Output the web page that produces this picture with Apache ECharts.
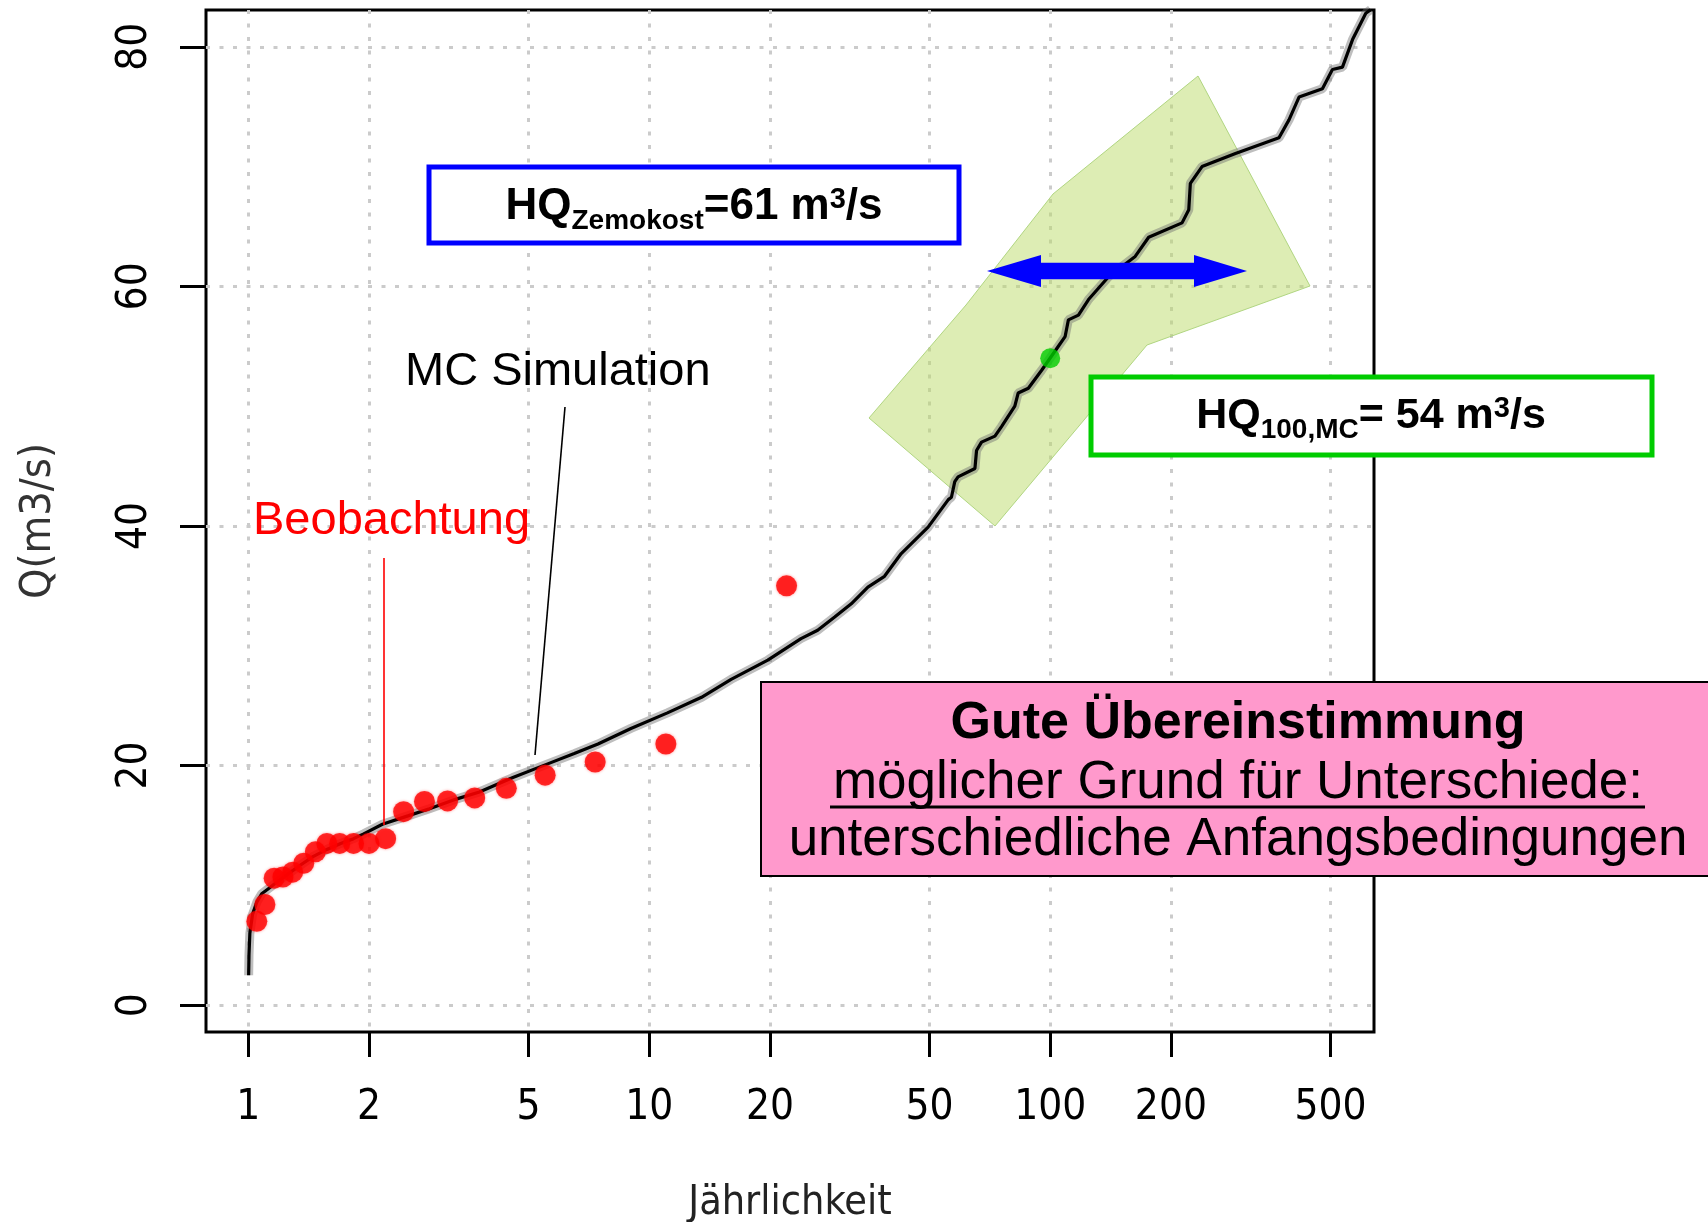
<!DOCTYPE html>
<html><head><meta charset="utf-8">
<script src="https://cdn.jsdelivr.net/npm/echarts@6/dist/echarts.min.js"></script>
<style>html,body{margin:0;padding:0;background:#fff}#c{width:1708px;height:1222px}</style>
</head><body><div id="c"></div>
<script>
// ---- data ----
const returnPeriodTicks = [1, 2, 5, 10, 20, 50, 100, 200, 500];
const dischargeTicks = [0, 20, 40, 60, 80];

// MC simulation curve: return period (years) and discharge (m3/s)
const mcReturnPeriod = [1.002, 1.004, 1.009, 1.025, 1.05, 1.08, 1.12, 1.17, 1.25, 1.35, 1.45, 1.57, 1.7, 1.83, 1.94,
  2.16, 2.5, 2.83, 3.3, 3.77, 4.57, 5.54, 6.5, 7.45, 9.0, 11.1, 13.5, 16.0, 19.75, 23.9, 26.3, 29.0, 31.9, 35.1, 38.6,
  42.5, 49.6, 55.7, 56.7, 57.8, 58.9, 64.9, 65.5, 67.4, 72.8, 75.6, 81.6, 83.2, 88.2, 95.2, 104.8, 108.9, 111, 117.6,
  124.6, 139.8, 162.9, 176, 213.2, 221.6, 223.6, 239.1, 289.7, 372, 394, 417.4, 477.4, 505.6, 535.6, 567.5, 612.4, 630];
const mcDischarge = [2.5, 4.2, 6.0, 7.6, 8.6, 9.3, 9.7, 10.2, 10.9, 11.7, 12.4, 13.0, 13.5, 13.9, 14.3,
  15.1, 15.8, 16.4, 17.2, 17.8, 19.0, 20.1, 21.0, 21.8, 23.1, 24.4, 25.7, 27.2, 28.8, 30.6, 31.3, 32.4, 33.5, 34.9, 35.8,
  37.7, 39.9, 42.2, 42.4, 43.7, 44.1, 44.8, 46.3, 47.0, 47.5, 48.3, 50.0, 51.1, 51.5, 53.0, 55.0, 55.8, 57.2, 57.6,
  58.9, 60.8, 62.5, 64.1, 65.3, 66.4, 68.6, 70.0, 71.1, 72.4, 73.9, 75.8, 76.5, 78.1, 78.3, 80.6, 82.8, 83.1];

// Observations (Beobachtung)
const obsReturnPeriod = [22, 11, 7.33, 5.5, 4.4, 3.67, 3.14, 2.75, 2.44, 2.2, 2.0, 1.83, 1.69, 1.57, 1.47, 1.375, 1.29, 1.22, 1.16, 1.1, 1.05];
const obsDischarge = [35.0, 21.8, 20.3, 19.2, 18.1, 17.3, 17.05, 17.0, 16.15, 13.9, 13.5, 13.5, 13.5, 13.5, 12.8, 11.85, 11.1, 10.7, 10.6, 8.4, 7.0];

// HQ100 from MC
const hq100ReturnPeriod = [100];
const hq100Discharge = [54];

// ---- chart ----
const lg = v => Math.log10(v);
const pairs = (xs, ys) => xs.map((x, i) => [lg(x), ys[i]]);
const narrow = "'Liberation Sans Narrow', 'Arial Narrow', 'DejaVu Sans Condensed', sans-serif";
const sans = "'Liberation Sans', Arial, sans-serif";

const chart = echarts.init(document.getElementById('c'), null, {renderer: 'canvas', width: 1708, height: 1222});

const subSup = {
  b: {fontSize: 44, fontWeight: 'bold', fontFamily: sans, color: '#000'},
  sub: {fontSize: 28, fontWeight: 'bold', fontFamily: sans, color: '#000', padding: [29, 0, 0, 0]},
  sup: {fontSize: 29, fontWeight: 'bold', fontFamily: sans, color: '#000', padding: [0, 0, 14, 0]}
};
const subSupG = {
  b: {fontSize: 43, fontWeight: 'bold', fontFamily: sans, color: '#000'},
  sub: {fontSize: 28, fontWeight: 'bold', fontFamily: sans, color: '#000', padding: [28, 0, 0, 0]},
  sup: {fontSize: 29, fontWeight: 'bold', fontFamily: sans, color: '#000', padding: [0, 0, 14, 0]}
};

const option = {
  animation: false,
  backgroundColor: '#fff',
  grid: {left: 206, top: 10, width: 1168, height: 1022, show: true, borderColor: '#000', borderWidth: 3,
    backgroundColor: 'transparent', containLabel: false, outerBoundsMode: 'none'},
  xAxis: {
    type: 'value', min: -0.1055, max: 2.8075,
    axisLine: {show: false, onZero: false},
    axisTick: {show: true, length: 25, lineStyle: {color: '#000', width: 3}, customValues: returnPeriodTicks.map(lg)},
    axisLabel: {customValues: returnPeriodTicks.map(lg), formatter: v => String(Math.round(Math.pow(10, v))),
      fontFamily: narrow, fontSize: 42, color: '#000', margin: 55, lineHeight: 42},
    splitLine: {show: true, lineStyle: {color: '#cbcbcb', width: 3, type: [4, 9.5]}},
    name: 'Jährlichkeit', nameLocation: 'middle', nameGap: 151,
    nameTextStyle: {fontFamily: narrow, fontSize: 41, color: '#222', lineHeight: 41}
  },
  yAxis: {
    type: 'value', min: -2.24, max: 83.07,
    axisLine: {show: false, onZero: false},
    axisTick: {show: true, length: 26, lineStyle: {color: '#000', width: 3}, customValues: dischargeTicks},
    axisLabel: {customValues: dischargeTicks, rotate: 90, fontFamily: narrow, fontSize: 42, color: '#000', margin: 50, lineHeight: 42},
    splitLine: {show: true, lineStyle: {color: '#cbcbcb', width: 3, type: [4, 9.5]}},
    name: 'Q(m3/s)', nameLocation: 'middle', nameRotate: 90, nameGap: 146,
    nameTextStyle: {fontFamily: narrow, fontSize: 43, color: '#333', lineHeight: 43}
  },
  series: [
    {type: 'line', name: 'MC halo', data: pairs(mcReturnPeriod, mcDischarge), showSymbol: false, symbol: 'none',
      lineStyle: {color: 'rgba(110,110,110,0.45)', width: 9}, z: 2, silent: true},
    {type: 'line', name: 'MC Simulation', data: pairs(mcReturnPeriod, mcDischarge), showSymbol: false, symbol: 'none',
      lineStyle: {color: '#000', width: 3.2}, z: 3},
    {type: 'scatter', name: 'Beobachtung', data: pairs(obsReturnPeriod, obsDischarge), symbol: 'circle', symbolSize: 21,
      itemStyle: {color: '#ff0000', shadowBlur: 3, shadowColor: 'rgba(255,0,0,0.5)'}, z: 4},
    {type: 'scatter', name: 'HQ100,MC', data: pairs(hq100ReturnPeriod, hq100Discharge), symbol: 'circle', symbolSize: 20,
      itemStyle: {color: '#00cc00'}, z: 5}
  ],
  graphic: {elements: [
    // green uncertainty band
    {type: 'polygon', z: 1, silent: true,
      shape: {points: [[869, 418], [966, 305], [1053, 194], [1198, 76], [1310, 286], [1147, 345], [995, 526]]},
      style: {fill: 'rgba(187,219,105,0.5)', stroke: 'rgba(170,210,120,0.9)', lineWidth: 1}},
    // blue double arrow
    {type: 'polygon', z: 100, silent: true,
      shape: {points: [[987, 271], [1041, 255], [1041, 262.7], [1194, 262.7], [1194, 255], [1247, 271], [1194, 287], [1194, 279.3], [1041, 279.3], [1041, 287]]},
      style: {fill: '#0000ff'}},
    // blue box
    {type: 'rect', z: 100, shape: {x: 429, y: 167, width: 530, height: 76}, style: {fill: '#fff', stroke: '#0000ff', lineWidth: 5}},
    {type: 'text', z: 101, x: 694, y: 207, style: {
      text: '{b|HQ}{sub|Zemokost}{b|=61 m}{sup|3}{b|/s}', rich: subSup, align: 'center', verticalAlign: 'middle'}},
    // green box
    {type: 'rect', z: 100, shape: {x: 1091, y: 377, width: 561, height: 78}, style: {fill: '#fff', stroke: '#00cc00', lineWidth: 5}},
    {type: 'text', z: 101, x: 1371, y: 416, style: {
      text: '{b|HQ}{sub|100,MC}{b|= 54 m}{sup|3}{b|/s}', rich: subSupG, align: 'center', verticalAlign: 'middle'}},
    // pink box
    {type: 'rect', z: 100, shape: {x: 761, y: 682, width: 960, height: 194}, style: {fill: '#ff99cc', stroke: '#000', lineWidth: 2}},
    {type: 'text', z: 101, x: 1238, y: 724, style: {text: 'Gute Übereinstimmung', font: "bold 52px 'Liberation Sans', Arial, sans-serif", fill: '#000', align: 'center', verticalAlign: 'middle'}},
    {type: 'text', z: 101, x: 1238, y: 783, style: {text: 'möglicher Grund für Unterschiede:', font: "53px 'Liberation Sans', Arial, sans-serif", fill: '#000', align: 'center', verticalAlign: 'middle'}},
    {type: 'line', z: 101, shape: {x1: 830, y1: 807, x2: 1645, y2: 807}, style: {stroke: '#000', lineWidth: 3}},
    {type: 'text', z: 101, x: 1238, y: 840, style: {text: 'unterschiedliche Anfangsbedingungen', font: "53px 'Liberation Sans', Arial, sans-serif", fill: '#000', align: 'center', verticalAlign: 'middle'}},
    // MC Simulation label + leader
    {type: 'text', z: 101, x: 405, y: 372, style: {text: 'MC Simulation', font: "47px 'Liberation Sans', Arial, sans-serif", fill: '#000', align: 'left', verticalAlign: 'middle'}},
    {type: 'line', z: 101, shape: {x1: 565, y1: 407, x2: 535, y2: 755}, style: {stroke: '#000', lineWidth: 1.6}},
    // Beobachtung label + leader
    {type: 'text', z: 101, x: 253, y: 521, style: {text: 'Beobachtung', font: "47px 'Liberation Sans', Arial, sans-serif", fill: '#ff0000', align: 'left', verticalAlign: 'middle'}},
    {type: 'line', z: 101, shape: {x1: 384, y1: 558, x2: 384, y2: 825}, style: {stroke: '#ff0000', lineWidth: 1.6}}
  ]}
};
chart.setOption(option);
</script>
</body></html>
